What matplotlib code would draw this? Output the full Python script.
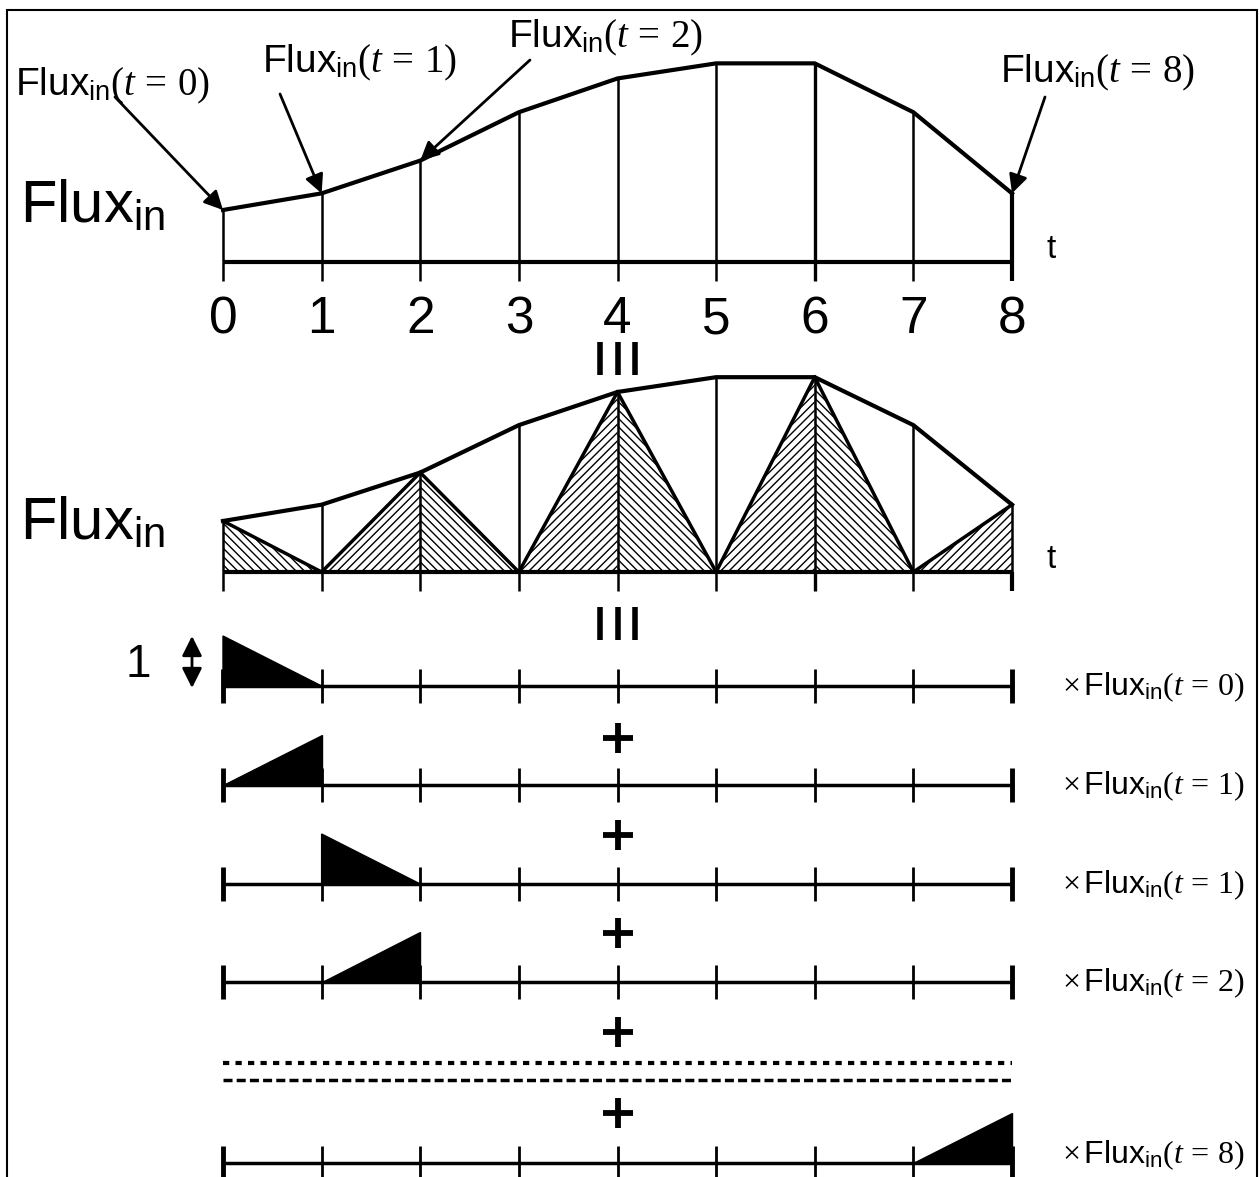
import numpy as np
import matplotlib.pyplot as plt
from matplotlib.patches import Polygon, Rectangle

plt.rcParams['font.family'] = ['Liberation Sans', 'DejaVu Sans']
plt.rcParams['mathtext.fontset'] = 'custom'
plt.rcParams['mathtext.rm'] = 'Liberation Serif'
plt.rcParams['mathtext.it'] = 'Liberation Serif:italic'
plt.rcParams['mathtext.sf'] = 'Liberation Sans'
plt.rcParams['hatch.linewidth'] = 1.0
plt.rcParams['lines.scale_dashes'] = False

# data
t = np.arange(9)
flux = np.array([1.0, 1.32, 1.95, 2.88, 3.53, 3.82, 3.82, 2.88, 1.32])
arrow_times = [0, 1, 2, 8]
peak_times = [0, 2, 4, 6, 8]
basis_start = [0, 0, 1, 1, 7]
basis_rising = [False, True, False, True, True]
basis_labels = ['0', '1', '1', '2', '8']

# layout (pixel rows, t on x)
W, H = 1259, 1177
X0, DX = 223, 98.625
TOP_BASE, MID_BASE = 262, 572
SCALE_TOP, SCALE_MID = 52, 51
ROW_BASE = [686, 785, 884, 982, 1163]
UNIT = 50
PLUS_Y = [738, 835, 933, 1032, 1113]
DASH_Y = [1063, 1080]


def px(x):
    return (x - X0) / DX


fig = plt.figure(figsize=(W / 100, H / 100), dpi=100)
ax = fig.add_axes([0, 0, 1, 1])
ax.set_xlim(px(0), px(W))
ax.set_ylim(H, 0)
ax.axis('off')


def fl(s=None, times=False):
    txt = r'\mathsf{Flux}_{\mathsf{in}}'
    if s is not None:
        txt += r'(t\,=\,%s)' % s
    if times:
        txt = r'\times\,' + txt
    return '$' + txt + '$'


# ---- top panel
top = TOP_BASE - SCALE_TOP * flux
ax.plot(t, top, color='k', lw=3, solid_joinstyle='round', zorder=3)
lws = [1.8] * 6 + [2.4, 1.8, 3]
ax.vlines(t, top, TOP_BASE, color='k', lw=lws)
ax.hlines(TOP_BASE, 0, 8, color='k', lw=3)
ax.vlines(t, TOP_BASE, TOP_BASE + 19, color='k', lw=lws)
for ti in t:
    ax.text(ti, 333, str(ti), fontsize=37, ha='center', va='baseline')
ax.text(px(20), 223, fl(), fontsize=43, va='baseline')
ax.text(px(1046), 258, 't', fontsize=24, va='baseline')

label_pos = {0: (15, 95), 1: (262, 72), 2: (508, 47), 8: (1000, 82)}
tail_pos = {0: (115, 97), 1: (280, 94), 2: (530, 60), 8: (1045, 97)}
for ti in arrow_times:
    lx, ly = label_pos[ti]
    ax.text(px(lx), ly, fl(ti), fontsize=28, va='baseline')
    tx, ty = tail_pos[ti]
    ax.annotate('', xy=(ti, top[ti]), xytext=(px(tx), ty),
                arrowprops=dict(arrowstyle='-|>', color='k', lw=2,
                                mutation_scale=28, shrinkA=0, shrinkB=0))

# equals signs (vertical)
for y0 in [342, 607]:
    ax.vlines([4 - 0.18, 4, 4 + 0.18], y0, y0 + 33, color='k', lw=4)

# ---- middle panel: hat functions under the curve
mid = MID_BASE - SCALE_MID * flux
for k in peak_times:
    if k > 0:
        ax.add_patch(Polygon([(k - 1, MID_BASE), (k, mid[k]), (k, MID_BASE)],
                             facecolor='none', edgecolor='k', lw=0, hatch='////'))
        ax.plot([k - 1, k], [MID_BASE, mid[k]], color='k', lw=2.5)
    if k < 8:
        ax.add_patch(Polygon([(k, MID_BASE), (k, mid[k]), (k + 1, MID_BASE)],
                             facecolor='none', edgecolor='k', lw=0, hatch='\\\\\\\\'))
        ax.plot([k, k + 1], [mid[k], MID_BASE], color='k', lw=2.5)
ax.plot(t, mid, color='k', lw=3, solid_joinstyle='round', zorder=3)
ax.vlines(t, mid, MID_BASE, color='k', lw=1.8)
ax.hlines(MID_BASE, 0, 8, color='k', lw=3)
ax.vlines(t, MID_BASE, MID_BASE + 19, color='k', lw=lws)
ax.text(px(20), 540, fl(), fontsize=43, va='baseline')
ax.text(px(1046), 568, 't', fontsize=24, va='baseline')

# ---- basis rows
for base, s, up, lab in zip(ROW_BASE, basis_start, basis_rising, basis_labels):
    ax.hlines(base, 0, 8, color='k', lw=2.5)
    ax.vlines(t[1:-1], base - 17, base + 17, color='k', lw=2)
    ax.vlines([0, 8], base - 17, base + 17, color='k', lw=3.5)
    if up:
        pts = [(s, base), (s + 1, base), (s + 1, base - UNIT)]
    else:
        pts = [(s, base), (s, base - UNIT), (s + 1, base)]
    ax.add_patch(Polygon(pts, facecolor='k', edgecolor='k', lw=1, zorder=3))
    ax.text(px(1062), min(base + 9, H - 14), fl(lab, times=True),
            fontsize=23, va='baseline')

for y in PLUS_Y:
    ax.plot(4, y, marker='+', ms=22, mew=4.2, color='k')

ax.plot([0, 8], [DASH_Y[0]] * 2, color='k', lw=3, dashes=(4.5, 4.5))
ax.plot([0, 8], [DASH_Y[1]] * 2, color='k', lw=2.5, dashes=(6.5, 3))

# unit height marker
ax.text(px(151), 677, '1', fontsize=33, ha='right', va='baseline')
ax.annotate('', xy=(px(192), 636), xytext=(px(192), 688),
            arrowprops=dict(arrowstyle='<|-|>', color='k', lw=2,
                            mutation_scale=30, shrinkA=0, shrinkB=0))

fig.add_artist(Rectangle((7 / W, -0.01), 1250 / W, (H - 10) / H + 0.01,
                         transform=fig.transFigure, fill=False, lw=1.5, color='k'))

fig.savefig('out.png', dpi=100)
